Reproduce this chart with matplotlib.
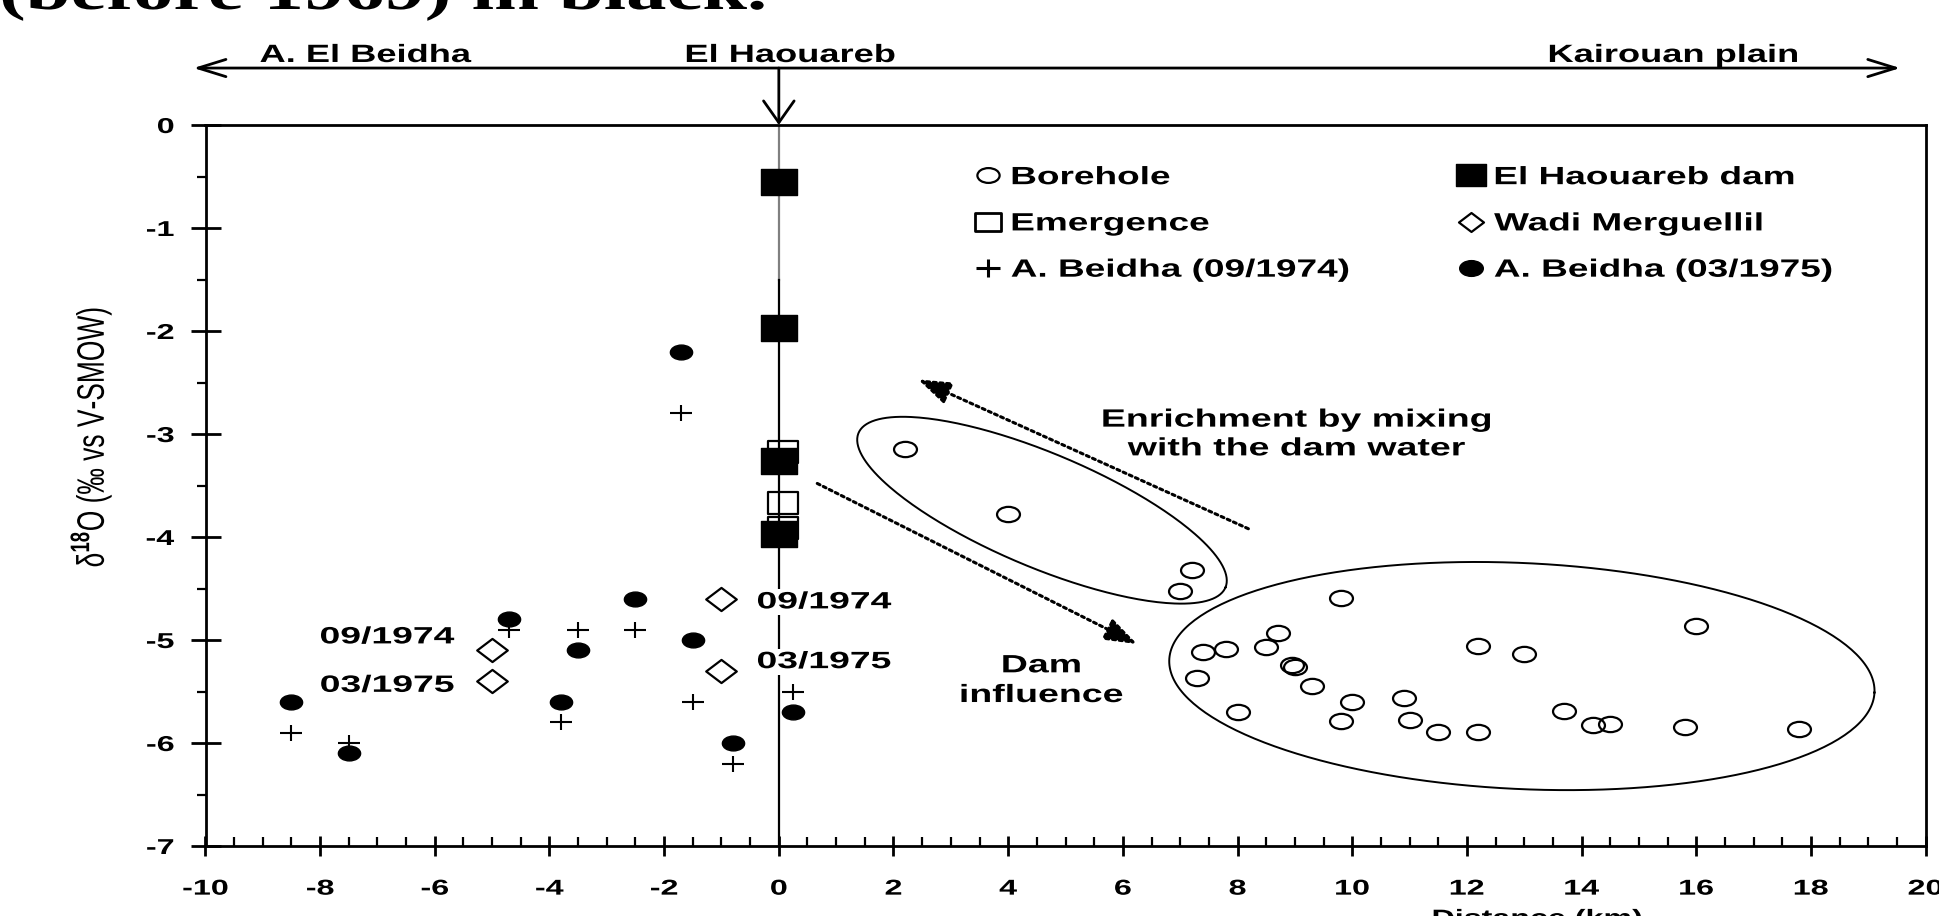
import numpy as np
import matplotlib
matplotlib.use("Agg")
import matplotlib.pyplot as plt
from matplotlib.path import Path
from matplotlib.transforms import Affine2D
from matplotlib.patheffects import AbstractPathEffect
from matplotlib.lines import Line2D
from matplotlib.ticker import MultipleLocator

# distance to the dam (km) / d18O (permil vs V-SMOW)
bore_x = [2.2, 4.0, 7.2, 7.0, 9.8, 16.0, 8.7, 7.8, 7.4, 8.5, 12.2, 13.0, 8.95, 9.0,
          7.3, 9.3, 10.0, 10.9, 8.0, 9.8, 11.0, 11.5, 12.2, 13.7, 14.2, 14.5, 15.8, 17.8]
bore_y = [-3.15, -3.78, -4.32, -4.52, -4.59, -4.86, -4.93, -5.09, -5.12, -5.07, -5.06, -5.14, -5.24, -5.26,
          -5.37, -5.45, -5.6, -5.56, -5.7, -5.79, -5.78, -5.89, -5.89, -5.69, -5.83, -5.82, -5.84, -5.86]
dam_x = [0, 0, 0, 0]
dam_y = [-0.55, -1.97, -3.26, -3.97]
emer_x = [0.08, 0.08, 0.08]
emer_y = [-3.17, -3.67, -3.91]
wadi_x = [-5.0, -5.0, -1.0, -1.0]
wadi_y = [-5.1, -5.4, -4.6, -5.3]
b74_x = [-8.5, -7.5, -4.7, -3.5, -3.8, -2.5, -1.5, -0.8, 0.25, -1.7]
b74_y = [-5.9, -6.0, -4.9, -4.9, -5.8, -4.9, -5.6, -6.2, -5.5, -2.8]
b75_x = [-8.5, -7.5, -4.7, -3.5, -3.8, -2.5, -1.5, -0.8, 0.25, -1.7]
b75_y = [-5.6, -6.1, -4.8, -5.1, -5.6, -4.6, -5.0, -6.0, -5.7, -2.2]

# annotation geometry: (centre, end of long axis) in data units, short half-axis in px
rings = [((4.59, -3.74), (7.79, -4.49), 57),
         ((12.96, -5.35), (19.11, -5.51), 113)]
arrows = [((8.19, -3.92), (2.43, -2.47)),
          ((0.67, -3.48), (6.25, -5.04))]

SX = 1.45  # the scan is stretched sideways


class Stretch(AbstractPathEffect):
    """widen drawn text horizontally about its left/centre/right edge"""
    def __init__(self, anchor="center", sx=SX):
        super().__init__()
        self.anchor, self.sx = anchor, sx

    def draw_path(self, renderer, gc, tpath, affine, rgbFace=None):
        ext = tpath.get_extents(affine)
        x0 = {"left": ext.x0, "center": 0.5 * (ext.x0 + ext.x1), "right": ext.x1}[self.anchor]
        aff = affine + Affine2D().translate(-x0, 0).scale(self.sx, 1).translate(x0, 0)
        renderer.draw_path(gc, tpath, aff, rgbFace)


def wide(path, sx):
    return Path(np.asarray(path.vertices) * [sx, 1], path.codes)


MV, LT, CP = Path.MOVETO, Path.LINETO, Path.CLOSEPOLY
m_circle = wide(Path.unit_circle(), 1.5)
m_square = Path([(-1.4, -1), (1.4, -1), (1.4, 1), (-1.4, 1), (-1.4, -1)], [MV, LT, LT, LT, CP])
m_diamond = Path([(0, 1), (1.32, 0), (0, -1), (-1.32, 0), (0, 1)], [MV, LT, LT, LT, CP])
m_plus = Path([(-1.35, 0), (1.35, 0), (0, -1), (0, 1)], [MV, LT, MV, LT])

plt.rcParams["font.family"] = ["Liberation Sans", "DejaVu Sans"]
plt.rcParams["font.weight"] = "bold"
plt.rcParams["axes.unicode_minus"] = False
plt.rcParams["mathtext.fontset"] = "custom"
plt.rcParams["mathtext.rm"] = "Liberation Sans"

W, H = 1939, 916
fig = plt.figure(figsize=(W / 100, H / 100), dpi=100)
ax = fig.add_axes([205.5 / W, 70 / H, 1720 / W, 721 / H])
ax.set_xlim(-10, 20)
ax.set_ylim(-7, 0)

for s in ax.spines.values():
    s.set_linewidth(2)
ax.set_xticks(range(-10, 21, 2))
ax.set_yticks(range(-7, 1))
ax.xaxis.set_minor_locator(MultipleLocator(0.5))
ax.yaxis.set_minor_locator(MultipleLocator(0.5))
ax.tick_params(axis="x", which="major", direction="inout", length=15, width=2, labelsize=15.5, pad=16)
ax.tick_params(axis="y", which="major", direction="inout", length=21, width=2, labelsize=15.5, pad=12)
ax.tick_params(axis="x", which="minor", direction="in", length=6.5, width=1.6)
ax.tick_params(axis="y", which="minor", direction="out", length=6.5, width=1.6)
for t in ax.get_xticklabels():
    t.set_path_effects([Stretch("center", 1.5)])
for t in ax.get_yticklabels():
    t.set_path_effects([Stretch("right", 1.5)])

# El Haouareb line
ax.axvline(0, ymin=1 - 1.5 / 7, ymax=1, color="0.5", lw=1.6, zorder=1)
ax.axvline(0, ymin=0, ymax=1 - 1.5 / 7, color="k", lw=1.6, zorder=1)

ax.plot(bore_x, bore_y, ls="none", marker=m_circle, ms=16.5, mfc="none", mec="k", mew=1.6, zorder=3)
ax.plot(emer_x, emer_y, ls="none", marker=m_square, ms=22, mfc="none", mec="k", mew=1.6, zorder=3)
ax.plot(dam_x, dam_y, ls="none", marker=m_square, ms=26, mfc="k", mec="k", mew=1, zorder=4)
ax.plot(wadi_x, wadi_y, ls="none", marker=m_diamond, ms=22, mfc="none", mec="k", mew=1.6, zorder=3)
ax.plot(b74_x, b74_y, ls="none", marker=m_plus, ms=16.5, mfc="none", mec="k", mew=1.5, zorder=3)
ax.plot(b75_x, b75_y, ls="none", marker=m_circle, ms=16, mfc="k", mec="k", mew=1, zorder=3)


def ring(c, tip, b, n=300):
    to = ax.transData
    cx, cy = to.transform(c)
    tx, ty = to.transform(tip)
    a = np.hypot(tx - cx, ty - cy)
    ux, uy = (tx - cx) / a, (ty - cy) / a
    t = np.linspace(0, 2 * np.pi, n)
    px = cx + a * np.cos(t) * ux - b * np.sin(t) * uy
    py = cy + a * np.cos(t) * uy + b * np.sin(t) * ux
    return to.inverted().transform(np.column_stack([px, py]))


for c, tip, b in rings:
    pts = ring(c, tip, b)
    ax.plot(pts[:, 0], pts[:, 1], color="k", lw=1.4, zorder=2)

for tail, head in arrows:
    ax.annotate("", xy=head, xytext=tail,
                arrowprops=dict(arrowstyle="-|>,head_length=1.0,head_width=0.35", ls=(0, (1, 1.2)),
                                lw=2.2, color="k", mutation_scale=20, shrinkA=0, shrinkB=0))

big = dict(fontsize=18, fontweight="bold")
t1 = ax.text(9.03, -3.0, "Enrichment by mixing\nwith the dam water", ha="center", va="center",
             ma="center", linespacing=1.25, **big)
t2 = ax.text(4.58, -5.39, "Dam\ninfluence", ha="center", va="center", ma="center",
             linespacing=1.3, **big)
for t in (t1, t2):
    t.set_path_effects([Stretch("center", 1.5)])

box = dict(fc="white", ec="none", pad=1)
for x, y, s, ha in [(-5.66, -4.97, "09/1974", "right"), (-5.66, -5.44, "03/1975", "right"),
                    (-0.38, -4.63, "09/1974", "left"), (-0.38, -5.21, "03/1975", "left")]:
    t = ax.text(x, y, s, ha=ha, va="center", fontsize=17, fontweight="bold", bbox=box, zorder=5)
    t.set_path_effects([Stretch(ha, 1.58)])

# place names above the frame
xt = ax.get_xaxis_transform()
ax.annotate("", xy=(19.56, 1.079), xytext=(-10.21, 1.079), xycoords=xt, textcoords=xt,
            arrowprops=dict(arrowstyle="<->,head_length=1.0,head_width=0.31", lw=2, color="k",
                            mutation_scale=20, shrinkA=0, shrinkB=0), annotation_clip=False)
ax.annotate("", xy=(0, 1.0), xytext=(0, 1.079), xycoords=xt, textcoords=xt,
            arrowprops=dict(arrowstyle="->,head_length=0.78,head_width=0.55", lw=2, color="k",
                            mutation_scale=20, shrinkA=0, shrinkB=0), annotation_clip=False)
for x, s in [(-7.21, "A. El Beidha"), (0.2, "El Haouareb"), (15.6, "Kairouan plain")]:
    t = ax.text(x, 1.0874, s, transform=xt, ha="center", va="baseline", **big)
    t.set_path_effects([Stretch("center")])

handles = [
    Line2D([], [], ls="none", marker=m_circle, ms=16, mfc="none", mec="k", mew=1.6, label="Borehole"),
    Line2D([], [], ls="none", marker=m_square, ms=19, mfc="none", mec="k", mew=2, label="Emergence"),
    Line2D([], [], ls="none", marker=m_plus, ms=17, mfc="none", mec="k", mew=2.2, label="A. Beidha (09/1974)"),
    Line2D([], [], ls="none", marker=m_square, ms=22, mfc="k", mec="k", mew=1, label="El Haouareb dam"),
    Line2D([], [], ls="none", marker=m_diamond, ms=18, mfc="none", mec="k", mew=1.6, label="Wadi Merguellil"),
    Line2D([], [], ls="none", marker=m_circle, ms=17, mfc="k", mec="k", mew=1, label="A. Beidha (03/1975)"),
]
leg = ax.legend(handles=handles, ncol=2, loc="upper left", bbox_to_anchor=(3.43, -0.39),
                bbox_transform=ax.transData, frameon=False, prop=dict(size=18, weight="bold"),
                handlelength=1.0, handletextpad=0.42, columnspacing=8.72, labelspacing=0.89,
                borderpad=0, borderaxespad=0)
for t in leg.get_texts():
    t.set_path_effects([Stretch("left", 1.48)])

ax.set_ylabel(r"δ$^{18}$O (‰ vs V-SMOW)", fontsize=19, fontweight="normal")
ax.yaxis.set_label_coords((91 - 205.5) / 1720, (846 - 437) / 721)
ax.yaxis.label.set_va("center")
ax.yaxis.label.set_path_effects([Stretch("center")])

ax.set_xlabel("Distance (km)", fontsize=16, fontweight="bold")
ax.xaxis.set_label_coords((1537 - 205.5) / 1720, (846 - 909) / 721)
ax.xaxis.label.set_va("top")
ax.xaxis.label.set_path_effects([Stretch("center")])

# caption line of the page, cut by the crop
t = fig.text(0.0, 1 - 9 / H, "(before 1969) in black.", ha="left", va="baseline", fontsize=40,
             family="Liberation Serif", fontweight="bold")
t.set_path_effects([Stretch("left")])

fig.savefig("out.png", dpi=100)
